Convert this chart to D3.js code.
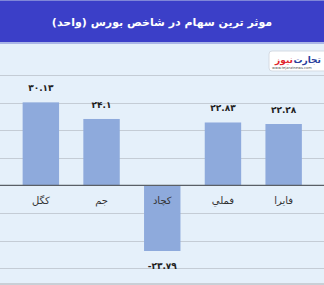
<!DOCTYPE html>
<html>
<head>
<meta charset="utf-8">
<script src="https://cdn.jsdelivr.net/npm/d3@7"></script>
<style>
  body { margin: 0; background: #e5f0fa; }
  svg { display: block; }
</style>
</head>
<body>
<div id="chart"></div>
<script>
var titleText = 'موثر ترین سهام در شاخص بورس (واحد)';
var categories = ['کگل', 'جم', 'کچاد', 'فملي', 'فایرا'];
var values = [30.13, 24.1, -23.79, 22.83, 22.28];
var valueLabels = ['۳۰.۱۳', '۲۴.۱', '-۲۳.۷۹', '۲۲.۸۳', '۲۲.۲۸'];
var gridTicks = [-30, -20, -10, 10, 20, 30, 40];

var w = 324, h = 285;
var font = '"DejaVu Sans", "Noto Sans", sans-serif';

var svg = d3.select('#chart').append('svg')
  .attr('width', w)
  .attr('height', h);

// background panel
svg.append('rect').attr('width', w).attr('height', h).attr('fill', '#e5f0fa');
svg.append('rect').attr('y', 283).attr('width', w).attr('height', 2).attr('fill', '#c9cfd6');

// title bar
svg.append('rect').attr('x', 0).attr('y', 0).attr('width', w).attr('height', 43).attr('fill', '#3b3fc8');
svg.append('rect').attr('x', 0).attr('y', 0).attr('width', w).attr('height', 1).attr('fill', '#7f86d8');
svg.append('rect').attr('x', 0).attr('y', 42).attr('width', w).attr('height', 2).attr('fill', '#aab6e6');
svg.append('text')
  .attr('x', w / 2).attr('y', 26)
  .attr('text-anchor', 'middle')
  .attr('direction', 'rtl')
  .attr('fill', '#ffffff')
  .style('font-family', font).style('font-size', '11px').style('font-weight', 'bold')
  .text(titleText);

// scales
var x = d3.scaleBand()
  .domain(categories)
  .range([10.5, 314])
  .paddingInner(0.4)
  .paddingOuter(0.2);
var y = d3.scaleLinear()
  .domain([-35.4, 51.3])
  .range([283, 44]);

// grid
svg.append('g').selectAll('line').data(gridTicks).enter().append('line')
  .attr('x1', 0).attr('x2', w)
  .attr('y1', function(d) { return Math.round(y(d)) + 0.5; })
  .attr('y2', function(d) { return Math.round(y(d)) + 0.5; })
  .attr('stroke', '#c4ccd5').attr('stroke-width', 1);

// bars
svg.append('g').selectAll('rect').data(values).enter().append('rect')
  .attr('x', function(d, i) { return x(categories[i]); })
  .attr('width', x.bandwidth())
  .attr('y', function(d) { return y(Math.max(0, d)); })
  .attr('height', function(d) { return Math.abs(y(d) - y(0)); })
  .attr('fill', '#8eaadc');

// zero line
svg.append('line')
  .attr('x1', 0).attr('x2', w)
  .attr('y1', y(0)).attr('y2', y(0))
  .attr('stroke', '#5a5f66').attr('stroke-width', 1.3);

// value labels
svg.append('g').selectAll('text').data(values).enter().append('text')
  .attr('x', function(d, i) { return x(categories[i]) + x.bandwidth() / 2; })
  .attr('y', function(d) { return d >= 0 ? y(d) - 11 : y(d) + 18; })
  .attr('text-anchor', 'middle')
  .attr('fill', '#222')
  .style('font-family', font).style('font-size', '9px').style('font-weight', 'bold')
  .text(function(d, i) { return valueLabels[i]; });

// category labels
svg.append('g').selectAll('text').data(categories).enter().append('text')
  .attr('x', function(d) { return x(d) + x.bandwidth() / 2; })
  .attr('y', y(0) + 19)
  .attr('text-anchor', 'middle')
  .attr('fill', '#333')
  .style('font-family', font).style('font-size', '10px')
  .text(function(d) { return d; });

// watermark logo
var logo = svg.append('g');
logo.append('rect').attr('x', 269).attr('y', 51).attr('width', 60).attr('height', 20).attr('rx', 3)
  .attr('fill', '#ffffff').attr('stroke', '#d5dbe3');
logo.append('text').attr('x', 321).attr('y', 63)
  .attr('text-anchor', 'end')
  .attr('fill', '#2a3e9c')
  .style('font-family', font).style('font-size', '9px').style('font-weight', 'bold')
  .text('تجارت');
logo.append('text').attr('x', 293).attr('y', 63)
  .attr('text-anchor', 'end')
  .attr('fill', '#e0252c')
  .style('font-family', font).style('font-size', '9px').style('font-weight', 'bold')
  .text('نیوز');
logo.append('text').attr('x', 272).attr('y', 69)
  .attr('fill', '#555')
  .style('font-family', font).style('font-size', '3.6px')
  .text('www.tejaratnews.com');
</script>
</body>
</html>
